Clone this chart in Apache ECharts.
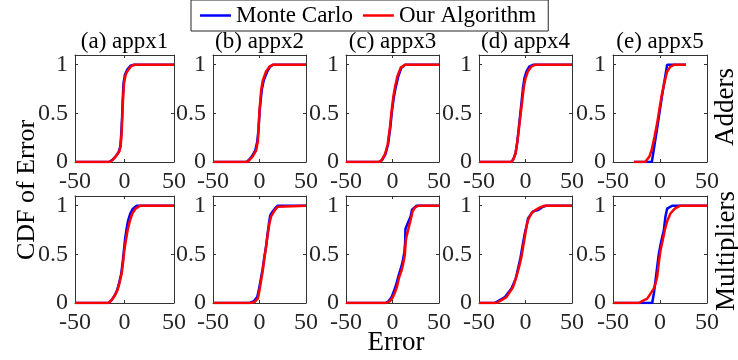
<!DOCTYPE html>
<html>
<head>
<meta charset="utf-8">
<script src="https://cdn.jsdelivr.net/npm/echarts@6/dist/echarts.min.js"></script>
<style>
html,body{margin:0;padding:0;background:#fff;}
#chart{width:738px;height:360px;}
</style>
</head>
<body>
<div id="chart"></div>
<script>
// ---- data ----
const seriesNames = ['Monte Carlo', 'Our Algorithm'];
const panelTitles = ['(a) appx1', '(b) appx2', '(c) appx3', '(d) appx4', '(e) appx5'];
const rowLabels = ['Adders', 'Multipliers'];
const xTicks = [-50, 0, 50];
const yTicks = [0, 0.5, 1];

// Adders (top row)
const addersMC_a = [[-50,0],[-15.5,0],[-12.5,0.02],[-9.5,0.05],[-6,0.10],[-4.2,0.16],[-3.2,0.30],[-2.4,0.47],[-1.8,0.64],[-1,0.81],[0.5,0.90],[2.8,0.95],[6,0.99],[9.5,1],[50,1]];
const addersOurs_a = [[-50,0],[-14.6,0],[-12,0.02],[-8.6,0.06],[-5.2,0.11],[-3.9,0.16],[-2.9,0.30],[-2.2,0.47],[-1.5,0.64],[-0.5,0.81],[1.2,0.90],[3.9,0.95],[7.2,0.99],[10.6,1],[50,1]];
const addersMC_b = [[-50,0],[-14,0],[-11.5,0.02],[-8,0.06],[-4.5,0.12],[-2.4,0.21],[-1.1,0.33],[0.2,0.53],[2.4,0.74],[4.6,0.84],[8.3,0.93],[11.5,0.98],[14.5,1],[50,1]];
const addersOurs_b = [[-50,0],[-13.2,0],[-10.7,0.02],[-7.1,0.06],[-3.6,0.12],[-1.8,0.21],[-1.1,0.33],[0,0.53],[1.8,0.74],[3.6,0.84],[7.1,0.93],[10.7,0.98],[14.3,1],[50,1]];
const addersMC_c = [[-50,0],[-14.8,0],[-11.2,0.02],[-7.6,0.08],[-4.8,0.18],[-2.3,0.36],[-0.5,0.53],[1.5,0.67],[3.5,0.77],[6.2,0.88],[9.6,0.97],[13.6,1],[50,1]];
const addersOurs_c = [[-50,0],[-14.2,0],[-11.6,0.02],[-8.1,0.08],[-5.2,0.18],[-2.7,0.36],[-0.9,0.53],[0.9,0.67],[2.7,0.77],[5.2,0.88],[8.8,0.97],[13.4,1],[50,1]];
const addersMC_d = [[-50,0],[-15.4,0],[-13.2,0.025],[-10.7,0.09],[-8.9,0.2],[-7.3,0.34],[-5.8,0.48],[-4.2,0.62],[-2.6,0.77],[-1.2,0.86],[1,0.93],[4,0.98],[8.5,1],[50,1]];
const addersOurs_d = [[-50,0],[-15.4,0],[-13.2,0.025],[-10.7,0.09],[-8.9,0.2],[-7.1,0.34],[-5.4,0.48],[-3.6,0.62],[-1.8,0.77],[0,0.86],[2.5,0.93],[6.1,0.98],[10.7,1],[50,1]];
const addersMC_e = [[-27.7,0],[-8.7,0],[-3,0.35],[2,0.67],[7.6,1],[27.7,1]];
const addersOurs_e = [[-27.7,0],[-15.7,0],[-13.6,0.014],[-11.1,0.06],[-8.7,0.13],[-5.8,0.26],[-3.0,0.40],[-0.5,0.55],[1.9,0.69],[4.8,0.82],[7.6,0.93],[11.1,0.98],[15.4,1],[27.7,1]];

// Multipliers (bottom row)
const multMC_a = [[-50,0],[-16,0],[-13,0.03],[-9.8,0.08],[-7.5,0.13],[-5.6,0.20],[-3.3,0.30],[-1.6,0.44],[-0.6,0.54],[0.5,0.65],[1.9,0.75],[3.7,0.85],[5.8,0.92],[8.5,0.97],[12.3,1],[50,1]];
const multOurs_a = [[-50,0],[-16.3,0],[-13,0.03],[-9.6,0.08],[-7.2,0.13],[-5.2,0.20],[-2.9,0.30],[-1.2,0.44],[-0.2,0.54],[1.5,0.65],[3.2,0.75],[5.6,0.85],[7.9,0.92],[11.3,0.97],[15.7,1],[50,1]];
const multMC_b = [[-50,0],[-10.5,0],[-6,0.02],[-2.5,0.06],[-0.8,0.13],[1.2,0.235],[3.2,0.34],[5.2,0.47],[7,0.58],[8.7,0.71],[10.2,0.82],[11.5,0.90],[13.3,0.93],[16.5,0.97],[19.6,1],[50,1]];
const multOurs_b = [[-50,0],[-9.6,0],[-5.4,0.01],[-1.8,0.045],[0,0.13],[1.8,0.235],[3.6,0.34],[5.4,0.47],[7.1,0.58],[8.9,0.71],[10.7,0.82],[12.5,0.89],[13.6,0.90],[16.1,0.95],[19.6,0.99],[21.4,1],[50,1]];
const multMC_c = [[-50,0],[-7.5,0],[-4,0.02],[-1,0.06],[1.5,0.12],[4,0.19],[6.2,0.27],[8.8,0.35],[10.8,0.42],[12.7,0.52],[13.6,0.62],[13.9,0.76],[16.8,0.83],[19.5,0.89],[21,0.96],[25.8,1],[50,1]];
const multOurs_c = [[-50,0],[-6.7,0],[-3.1,0.017],[-0.2,0.05],[2.3,0.10],[4.9,0.17],[7.0,0.26],[9.6,0.33],[11.4,0.40],[13.2,0.49],[14.3,0.64],[15,0.68],[16.8,0.75],[18.6,0.82],[20.4,0.89],[21.5,0.94],[24,0.98],[27.6,1],[50,1]];
const multMC_d = [[-50,0],[-33,0],[-29.4,0.02],[-22.2,0.06],[-15.1,0.15],[-10.5,0.25],[-5.5,0.46],[-0.9,0.71],[0.9,0.78],[2.7,0.87],[8,0.94],[13.3,0.955],[18.7,0.99],[22.2,1],[50,1]];
const multOurs_d = [[-50,0],[-31,0],[-27.6,0.02],[-20.5,0.06],[-13.3,0.165],[-9.8,0.27],[-6.9,0.37],[-4.4,0.47],[-2,0.61],[-0.2,0.71],[0.9,0.78],[2.7,0.85],[6.2,0.92],[9.8,0.95],[15.1,0.98],[20.5,1],[50,1]];
const multMC_e = [[-50,0],[-8.3,0],[-6.5,0.1],[-4.8,0.23],[-3.0,0.37],[-1.2,0.51],[1.2,0.63],[4.1,0.75],[5.8,0.89],[7.6,0.97],[12.9,1],[50,1]];
const multOurs_e = [[-50,0],[-22.4,0],[-18.9,0.02],[-13.6,0.045],[-10.1,0.096],[-6.5,0.15],[-4.8,0.2],[-3.0,0.27],[-1.2,0.42],[0.5,0.54],[3.0,0.65],[5.1,0.75],[7.6,0.84],[11.1,0.92],[15.7,0.97],[21.7,1],[50,1]];

const panelMC = [addersMC_a, addersMC_b, addersMC_c, addersMC_d, addersMC_e,
                 multMC_a, multMC_b, multMC_c, multMC_d, multMC_e];
const panelOurs = [addersOurs_a, addersOurs_b, addersOurs_c, addersOurs_d, addersOurs_e,
                   multOurs_a, multOurs_b, multOurs_c, multOurs_d, multOurs_e];

// ---- layout ----
const FONT = '"Liberation Serif", "Times New Roman", serif';
const AXC = '#262626';
const BOXC = '#333333';
const colLeft = [75, 213, 346, 479, 613];
const colWidth = [99, 93, 93, 93, 94];
const rowTop = [55, 196];
const rowHeight = 107;

const grids = [], xAxes = [], yAxes = [], series = [], graphics = [];
for (let r = 0; r < 2; r++) {
  for (let c = 0; c < 5; c++) {
    grids.push({
      left: colLeft[c], top: rowTop[r], width: colWidth[c], height: rowHeight,
      show: false, containLabel: false
    });
  }
}
const baseX = (i, pos, labels) => ({
  type: 'value', gridIndex: i, position: pos, min: -50, max: 50, interval: 50,
  axisLine: {show: true, onZero: false, lineStyle: {color: BOXC, width: 1}},
  splitLine: {show: false},
  axisTick: {show: true, inside: true, length: 3, lineStyle: {color: BOXC}},
  axisLabel: {show: labels, margin: 8, fontFamily: FONT, fontSize: 24, color: AXC,
    formatter: v => (xTicks.indexOf(v) >= 0 ? String(v) : '')}
});
const baseY = (i, pos, labels) => ({
  type: 'value', gridIndex: i, position: pos, min: 0, max: 1.1, interval: 0.5,
  axisLine: {show: true, onZero: false, lineStyle: {color: BOXC, width: 1}},
  splitLine: {show: false},
  axisTick: {show: true, inside: true, length: 3, lineStyle: {color: BOXC}, customValues: yTicks},
  axisLabel: {show: labels, margin: 7, fontFamily: FONT, fontSize: 24, color: AXC,
    customValues: yTicks,
    formatter: v => (yTicks.indexOf(v) >= 0 ? String(v) : '')}
});
for (let i = 0; i < 10; i++) {
  xAxes.push(baseX(i, 'bottom', true));
  xAxes.push(baseX(i, 'top', false));
  yAxes.push(baseY(i, 'left', true));
  yAxes.push(baseY(i, 'right', false));
}

for (let i = 0; i < 10; i++) {
  series.push({
    name: seriesNames[0], type: 'line', xAxisIndex: 2 * i, yAxisIndex: 2 * i, data: panelMC[i],
    symbol: 'none', lineStyle: {color: '#0000ff', width: 2.5}, itemStyle: {color: '#0000ff'}, z: 2
  });
}
for (let i = 0; i < 10; i++) {
  series.push({
    name: seriesNames[1], type: 'line', xAxisIndex: 2 * i, yAxisIndex: 2 * i, data: panelOurs[i],
    symbol: 'none', lineStyle: {color: '#ff0000', width: 2.5}, itemStyle: {color: '#ff0000'}, z: 3
  });
}

for (let c = 0; c < 5; c++) {
  graphics.push({type: 'text', x: colLeft[c] + colWidth[c] / 2, y: 42,
    style: {text: panelTitles[c], fontFamily: FONT, fontSize: 23, fill: '#000', align: 'center', verticalAlign: 'middle'}});
}
graphics.push({type: 'text', x: 27, y: 190, rotation: Math.PI / 2,
  style: {text: 'CDF of Error', fontFamily: FONT, fontSize: 26, fill: '#000', align: 'center', verticalAlign: 'middle'}});
graphics.push({type: 'text', x: 396, y: 343,
  style: {text: 'Error', fontFamily: FONT, fontSize: 27, fill: '#000', align: 'center', verticalAlign: 'middle'}});
graphics.push({type: 'text', x: 726, y: 107, rotation: Math.PI / 2,
  style: {text: rowLabels[0], fontFamily: FONT, fontSize: 27, fill: '#000', align: 'center', verticalAlign: 'middle'}});
graphics.push({type: 'text', x: 727, y: 251, rotation: Math.PI / 2,
  style: {text: rowLabels[1], fontFamily: FONT, fontSize: 27, fill: '#000', align: 'center', verticalAlign: 'middle'}});

const chart = echarts.init(document.getElementById('chart'), null, {renderer: 'canvas'});
chart.setOption({
  animation: false,
  backgroundColor: '#fff',
  legend: {
    data: seriesNames, left: 191, top: 0, orient: 'horizontal',
    icon: 'rect', itemWidth: 31, itemHeight: 2.5, itemGap: 10,
    padding: [4, 12, 4, 9], borderColor: AXC, borderWidth: 1, backgroundColor: '#fff',
    textStyle: {fontFamily: FONT, fontSize: 23, color: '#000', lineHeight: 23}
  },
  grid: grids, xAxis: xAxes, yAxis: yAxes, series: series, graphic: graphics
});
</script>
</body>
</html>
